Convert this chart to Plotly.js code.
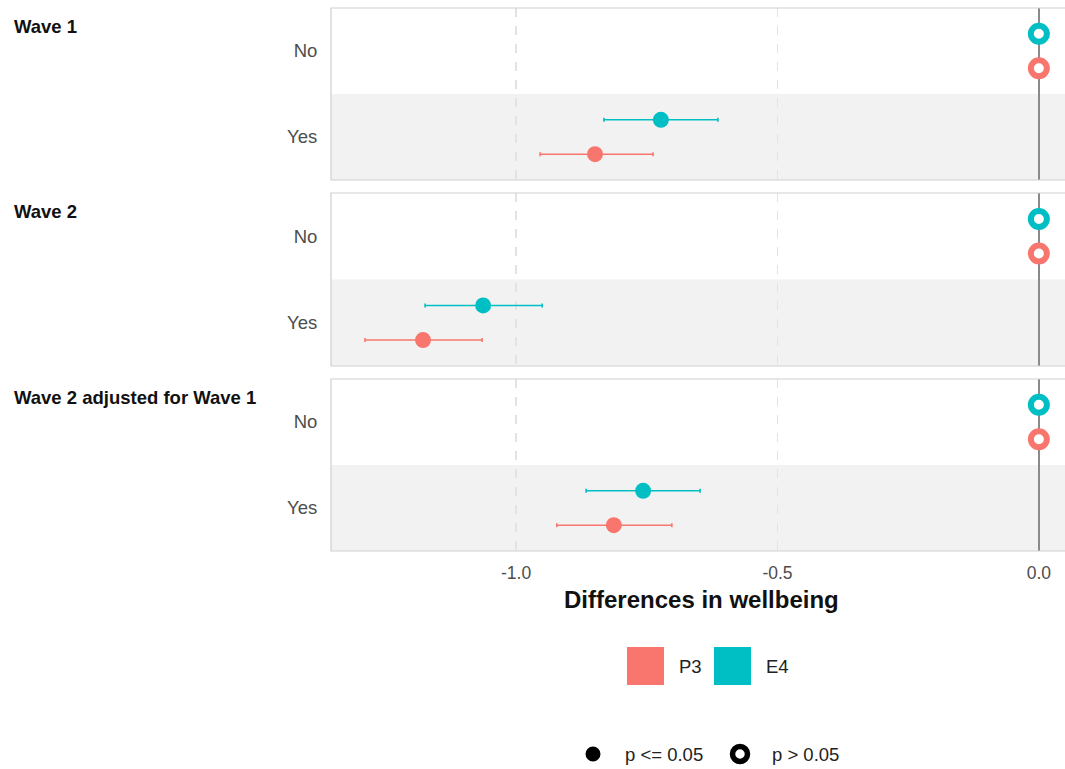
<!DOCTYPE html>
<html>
<head>
<meta charset="utf-8">
<script src="https://cdn.plot.ly/plotly-3.0.1.min.js"></script>
<style>html,body{margin:0;padding:0;background:#fff;}#chart{width:1065px;height:769px;}</style>
</head>
<body>
<div id="chart"></div>
<script>
// ---- data ----
const panels = ["Wave 1", "Wave 2", "Wave 2 adjusted for Wave 1"];
const categories = ["No", "Yes"];
const seriesNames = ["P3", "E4"];
// values ordered: panel1 No, panel1 Yes, panel2 No, panel2 Yes, panel3 No, panel3 Yes
const p3_est = [0, -0.849, 0, -1.178, 0, -0.813];
const p3_lo  = [0, -0.954, 0, -1.289, 0, -0.922];
const p3_hi  = [0, -0.738, 0, -1.065, 0, -0.702];
const p3_sig = [false, true, false, true, false, true];
const e4_est = [0, -0.723, 0, -1.063, 0, -0.757];
const e4_lo  = [0, -0.832, 0, -1.174, 0, -0.866];
const e4_hi  = [0, -0.614, 0, -0.950, 0, -0.648];
const e4_sig = [false, true, false, true, false, true];
const xTickVals = [-1.0, -0.5, 0.0];
const xTickText = ["-1.0", "-0.5", "0.0"];
const xTitle = "Differences in wellbeing";
const sigLabels = ["p <= 0.05", "p > 0.05"];

// ---- styling ----
const colors = {P3: "#F8766D", E4: "#00BFC4"};
const catPos = {Yes: 1, No: 2};
const dodge = {P3: -0.2, E4: 0.2};
const W = 1065, H = 769;
const L = 331, R = 0, T = 8, B = 218;
const PW = W - L - R, PH = H - T - B;
const px2x = px => (px - L) / PW;
const py2y = py => (H - B - py) / PH;
const yDomains = [[py2y(180), py2y(8)], [py2y(366), py2y(193)], [py2y(551), py2y(379)]];
const FONT = "Liberation Sans, Arial, Helvetica, sans-serif";

const series = {
  P3: {est: p3_est, lo: p3_lo, hi: p3_hi, sig: p3_sig},
  E4: {est: e4_est, lo: e4_lo, hi: e4_hi, sig: e4_sig}
};

const traces = [];
const layout = {
  width: W, height: H,
  margin: {l: L, r: R, t: T, b: B, pad: 0},
  paper_bgcolor: "#ffffff", plot_bgcolor: "#ffffff",
  showlegend: false,
  font: {family: FONT, color: "#4D4D4D"},
  shapes: [], annotations: []
};

panels.forEach((pname, i) => {
  const sfx = i === 0 ? "" : String(i + 1);
  const xa = "x" + sfx, ya = "y" + sfx;
  ["E4", "P3"].forEach(sn => {
    const s = series[sn];
    const xs = [], ys = [], ep = [], em = [], mc = [], mlw = [], mlc = [], ms = [];
    categories.forEach((c, j) => {
      const k = i * 2 + j;
      xs.push(s.est[k]);
      ys.push(catPos[c] + dodge[sn]);
      ep.push(s.hi[k] - s.est[k]);
      em.push(s.est[k] - s.lo[k]);
      mc.push(s.sig[k] ? colors[sn] : "#ffffff");
      mlw.push(s.sig[k] ? 0 : 6);
      mlc.push(colors[sn]);
      ms.push(s.sig[k] ? 16 : 16);
    });
    traces.push({
      type: "scatter", mode: "markers", name: sn,
      x: xs, y: ys, xaxis: xa, yaxis: ya,
      marker: {symbol: "circle", size: ms, opacity: 1, color: mc,
               line: {width: mlw, color: mlc}},
      error_x: {type: "data", symmetric: false, array: ep, arrayminus: em,
                color: colors[sn], thickness: 1.6, width: 2},
      hoverinfo: "x+name"
    });
  });

  layout["xaxis" + sfx] = {
    anchor: ya, domain: [0, 1], range: [-1.354, 0.05],
    matches: i === 0 ? undefined : "x",
    tickvals: xTickVals, ticktext: xTickText,
    showticklabels: i === 2,
    ticks: i === 2 ? "outside" : "", ticklen: 6, tickcolor: "rgba(0,0,0,0)",
    tickfont: {family: FONT, size: 17.5, color: "#4D4D4D"},
    showgrid: true, gridcolor: "#E3E3E3", gridwidth: 1.2, griddash: "dash",
    zeroline: true, zerolinecolor: "#8A8A8A", zerolinewidth: 2,
    showline: false, fixedrange: true
  };
  layout["yaxis" + sfx] = {
    anchor: xa, domain: yDomains[i], range: [0.5, 2.5],
    tickvals: [catPos.Yes, catPos.No], ticktext: ["Yes", "No"],
    ticks: "outside", ticklen: 9, tickcolor: "rgba(0,0,0,0)",
    tickfont: {family: FONT, size: 18.5, color: "#4D4D4D"},
    showgrid: false, zeroline: false, showline: false, fixedrange: true
  };
  // alternating band for "Yes" row
  layout.shapes.push({type: "rect", layer: "below", xref: xa + " domain", yref: ya,
    x0: 0, x1: 1, y0: 0.5, y1: 1.5, fillcolor: "#F2F2F2", line: {width: 0}});
  // panel border
  layout.shapes.push({type: "rect", layer: "above", xref: xa + " domain", yref: ya + " domain",
    x0: 0, x1: 1.01, y0: 0, y1: 1, fillcolor: "rgba(0,0,0,0)", line: {width: 1.2, color: "#CFCFCF"}});
  // facet label
  layout.annotations.push({text: "<b>" + pname + "</b>", xref: "paper", yref: ya + " domain",
    x: px2x(12), y: 1, xanchor: "left", yanchor: "top", yshift: -6, showarrow: false,
    font: {family: FONT, size: 18.5, color: "#111111"}});
});

// x axis title
layout.annotations.push({text: "<b>" + xTitle + "</b>", xref: "paper", yref: "paper",
  x: px2x(701), y: py2y(599), xanchor: "center", yanchor: "middle", showarrow: false,
  font: {family: FONT, size: 24, color: "#111111"}});

// legend: colour keys
seriesNames.forEach((sn, q) => {
  const x0 = 627 + q * 87;
  layout.shapes.push({type: "rect", xref: "paper", yref: "paper",
    x0: px2x(x0), x1: px2x(x0 + 37), y0: py2y(685), y1: py2y(647),
    fillcolor: colors[sn], line: {width: 0}});
  layout.annotations.push({text: sn, xref: "paper", yref: "paper",
    x: px2x(x0 + 50), y: py2y(666), xanchor: "left", yanchor: "middle", showarrow: false,
    font: {family: FONT, size: 18.5, color: "#222222"}});
});
// legend: significance keys
const sigX = [593, 740];
const sigTextX = [623, 770];
sigLabels.forEach((lab, q) => {
  const cx = sigX[q], cy = 754, r = q === 0 ? 7.5 : 7.5;
  layout.shapes.push({type: "circle", xref: "paper", yref: "paper",
    x0: px2x(cx - r), x1: px2x(cx + r), y0: py2y(cy + r), y1: py2y(cy - r),
    fillcolor: q === 0 ? "#000000" : "#ffffff", line: {width: q === 0 ? 0 : 5.5, color: "#000000"}});
  layout.annotations.push({text: lab, xref: "paper", yref: "paper",
    x: px2x(sigTextX[q]), y: py2y(cy), xanchor: "left", yanchor: "middle", showarrow: false,
    font: {family: FONT, size: 18.5, color: "#222222"}});
});

Plotly.newPlot("chart", traces, layout, {displayModeBar: false, staticPlot: true});
</script>
</body>
</html>
